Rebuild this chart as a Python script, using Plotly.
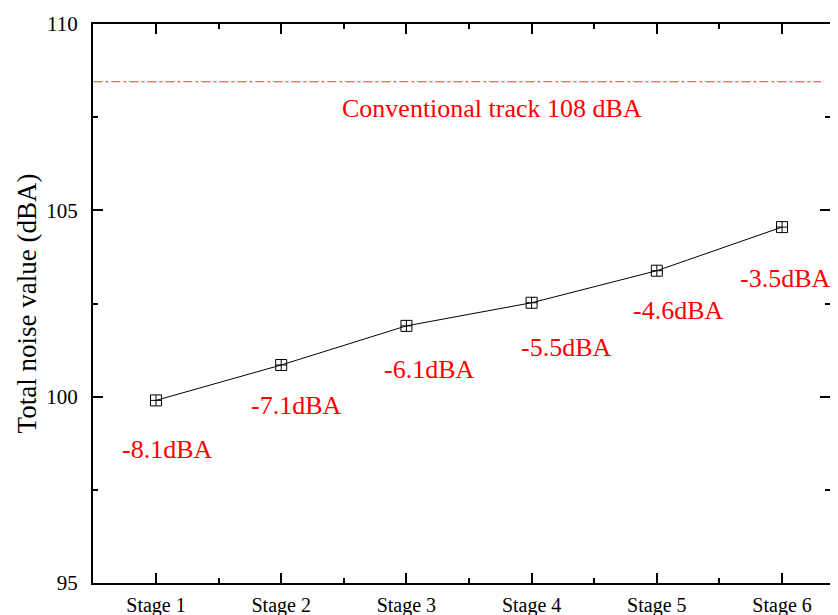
import plotly.graph_objects as go

stages = ["Stage 1", "Stage 2", "Stage 3", "Stage 4", "Stage 5", "Stage 6"]
stage_pos = [1, 2, 3, 4, 5, 6]
noise_values = [99.9, 100.85, 101.9, 102.52, 103.38, 104.55]
reduction_labels = ["-8.1dBA", "-7.1dBA", "-6.1dBA", "-5.5dBA", "-4.6dBA", "-3.5dBA"]
label_x = [1.088, 2.126, 3.188, 4.275, 5.177, 6.024]
label_y = [98.57, 99.75, 100.72, 101.31, 102.30, 103.18]
conventional_value = 108.45
conventional_text = "Conventional track 108 dBA"
y_ticks = [95, 100, 105, 110]

FONT = "Liberation Serif, Times New Roman, serif"
RED = "#ff0000"

fig = go.Figure()
fig.add_trace(go.Scatter(
    x=stage_pos, y=noise_values, mode="lines+markers",
    line=dict(color="black", width=1),
    marker=dict(symbol="square-cross-open", size=11, color="black", line=dict(width=1)),
    showlegend=False, hoverinfo="skip"))

fig.add_shape(type="line", xref="x", yref="y", x0=0.5, x1=6.31,
              y0=conventional_value, y1=conventional_value,
              line=dict(color=RED, width=1, dash="dashdot"), opacity=0.8)

fig.add_annotation(x=3.684, y=107.72, text=conventional_text, showarrow=False,
                   font=dict(family=FONT, size=26, color=RED))
for tx, ty, t in zip(label_x, label_y, reduction_labels):
    fig.add_annotation(x=tx, y=ty, text=t, showarrow=False,
                       font=dict(family=FONT, size=26, color=RED))

fig.update_layout(
    width=822, height=615,
    margin=dict(l=85, r=0, t=16, b=40),
    paper_bgcolor="white", plot_bgcolor="white",
    font=dict(family=FONT, color="black"),
)
fig.update_xaxes(
    range=[0.497, 6.383], tickvals=stage_pos, ticktext=stages, automargin=False,
    ticks="inside", ticklen=10, tickwidth=2, tickcolor="black",
    minor=dict(ticks="inside", ticklen=5, tickwidth=1.5, tickcolor="black", dtick=0.5, tick0=0.5),
    showline=True, linecolor="black", linewidth=2, mirror="allticks",
    showgrid=False, zeroline=False, tickfont=dict(family=FONT, size=20),
    ticklabelstandoff=3,
)
fig.update_yaxes(
    range=[95, 110], tickvals=y_ticks, automargin=False,
    ticks="inside", ticklen=10, tickwidth=2, tickcolor="black",
    minor=dict(ticks="inside", ticklen=5, tickwidth=1.5, tickcolor="black", dtick=2.5, tick0=95),
    showline=True, linecolor="black", linewidth=2, mirror="allticks",
    showgrid=False, zeroline=False, tickfont=dict(family=FONT, size=21),
    ticklabelstandoff=9,
    title=dict(text="Total noise value (dBA)", font=dict(family=FONT, size=27), standoff=2),
)

fig.write_html("out.html")
